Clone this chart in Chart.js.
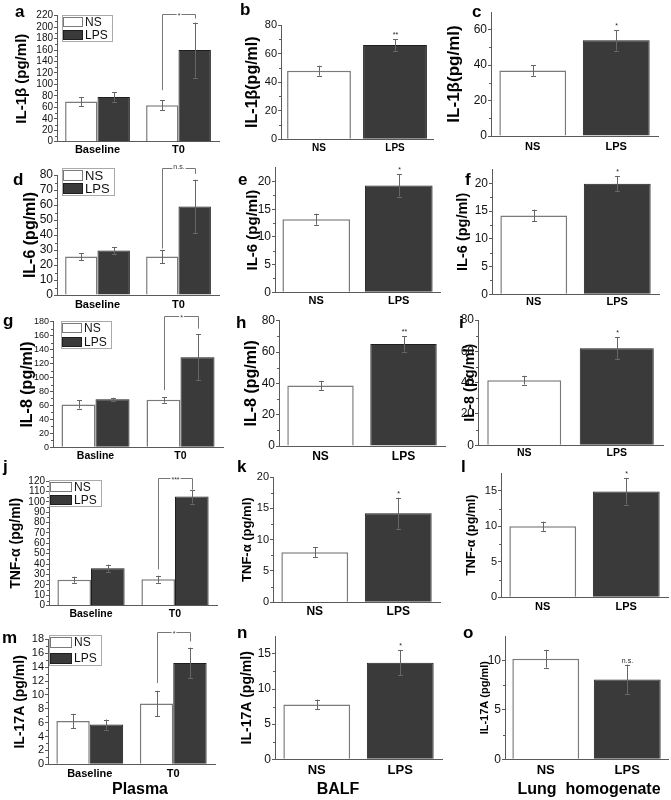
<!DOCTYPE html>
<html>
<head>
<meta charset="utf-8">
<script src="https://cdn.jsdelivr.net/npm/chart.js@4"></script>
<style>
  html, body { margin: 0; padding: 0; background: #fff; }
  body { position: relative; width: 671px; height: 800px; overflow: hidden; }
  canvas { position: absolute; }
</style>
</head>
<body>
<script>
// categories
const plasmaDays = ['Baseline', 'T0'];
const plasmaDaysIL8 = ['Basline', 'T0'];
const groups = ['NS', 'LPS'];

// IL-1β
const il1bPlasmaNS = [70, 63.5], il1bPlasmaNSErr = [8, 9];
const il1bPlasmaLPS = [78, 160], il1bPlasmaLPSErr = [8, 48];
const il1bPlasmaBracket = [90, 223, 215];
const il1bBalf = [48, 66], il1bBalfErr = [3.5, 4], il1bBalfSig = ['', '**'];
const il1bLung = [37, 54], il1bLungErr = [3, 5.8], il1bLungSig = ['', '*'];

// IL-6
const il6PlasmaNS = [25.6, 25.6], il6PlasmaNSErr = [2.3, 4.5];
const il6PlasmaLPS = [29.6, 59], il6PlasmaLPSErr = [2.3, 17.8];
const il6PlasmaBracket = [31, 84.4, 80.7];
const il6Balf = [13.2, 19.3], il6BalfErr = [1, 2], il6BalfSig = ['', '*'];
const il6Lung = [14.2, 19.9], il6LungErr = [1.05, 1.35], il6LungSig = ['', '*'];

// IL-8
const il8PlasmaNS = [61.5, 68], il8PlasmaNSErr = [6, 4];
const il8PlasmaLPS = [69, 129], il8PlasmaLPSErr = [2, 33];
const il8PlasmaBracket = [82, 188, 170];
const il8Balf = [38.7, 65.2], il8BalfErr = [2.9, 5], il8BalfSig = ['', '**'];
const il8Lung = [41.6, 62], il8LungErr = [2.8, 7], il8LungSig = ['', '*'];

// TNF-α
const tnfPlasmaNS = [25, 25.5], tnfPlasmaNSErr = [2.9, 3.3];
const tnfPlasmaLPS = [36, 105], tnfPlasmaLPSErr = [3.5, 6.7];
const tnfPlasmaBracket = [35, 123, 112];
const tnfBalf = [8, 14.2], tnfBalfErr = [0.75, 2.5], tnfBalfSig = ['', '*'];
const tnfLung = [10, 14.9], tnfLungErr = [0.65, 1.85], tnfLungSig = ['', '*'];

// IL-17A
const il17PlasmaNS = [6.25, 8.75], il17PlasmaNSErr = [1.03, 1.85];
const il17PlasmaLPS = [5.72, 14.6], il17PlasmaLPSErr = [0.73, 2.2];
const il17PlasmaBracket = [11.7, 19, 17.7];
const il17Balf = [7.8, 13.75], il17BalfErr = [0.7, 1.8], il17BalfSig = ['', '*'];
const il17Lung = [10.2, 8.1], il17LungErr = [0.9, 1.5], il17LungSig = ['', 'n.s.'];

const FONT = "'Liberation Sans', Arial, Helvetica, sans-serif";
const AXIS = '#5a5a5a';
const NS_FILL = '#ffffff', NS_EDGE = '#7a7a7a';
const LPS_FILL = '#3a3a3a', LPS_EDGE = '#1e1e1e';
const ERR = '#666666';

// canvas cells (x, width) and (y, height)
const COL = [[0, 228], [222, 226], [440, 231]];
const ROW = [[0, 162], [155, 157], [305, 159], [455, 173], [620, 180]];

const panels = [
  { letter: 'a', at: [15, 17], col: 0, row: 0, plot: [57, 15.7, 219, 141.7], titleX: 22, titleSize: 15, title: 'IL-1β (pg/ml)',
    tickSize: 10, xSize: 11, xGap: 8.3, max: 220, step: 20, labels: plasmaDays,
    ns: il1bPlasmaNS, nsErr: il1bPlasmaNSErr, lps: il1bPlasmaLPS, lpsErr: il1bPlasmaLPSErr,
    bracket: il1bPlasmaBracket, bracketText: '*', legend: [63, 17, 20, 10, 30, 12] },
  { letter: 'b', at: [240, 15], col: 1, row: 0, plot: [281, 25, 433, 139.3], titleX: 253, titleSize: 16, title: 'IL-1β(pg/ml)',
    tickSize: 11, xSize: 10, xGap: 9, max: 80, step: 20, cat: 0.84, labels: groups,
    values: il1bBalf, errors: il1bBalfErr, sig: il1bBalfSig },
  { letter: 'c', at: [472, 17], col: 2, row: 0, plot: [491, 12, 658, 136], titleX: 454, titleSize: 17, title: 'IL-1β(pg/ml)',
    tickSize: 12, xSize: 11, xGap: 10.7, max: 70, step: 20, labels: groups,
    values: il1bLung, errors: il1bLungErr, sig: il1bLungSig },

  { letter: 'd', at: [13, 185], col: 0, row: 1, plot: [57, 175, 219, 295], titleX: 31, titleSize: 16, title: 'IL-6 (pg/ml)',
    tickSize: 12, xSize: 11, xGap: 10, max: 80, step: 10, labels: plasmaDays,
    ns: il6PlasmaNS, nsErr: il6PlasmaNSErr, lps: il6PlasmaLPS, lpsErr: il6PlasmaLPSErr,
    bracket: il6PlasmaBracket, bracketText: 'n.s.', legend: [63, 170, 20, 11, 183, 13] },
  { letter: 'e', at: [238, 185], col: 1, row: 1, plot: [275, 167.8, 440, 292.3], titleX: 253, titleSize: 15, title: 'IL-6 (pg/ml)',
    tickSize: 12, xSize: 11, xGap: 8.4, max: 22.5, step: 5, cat: 0.82, labels: groups,
    values: il6Balf, errors: il6BalfErr, sig: il6BalfSig },
  { letter: 'f', at: [465, 185], col: 2, row: 1, plot: [492, 169.4, 659, 294.3], titleX: 463, titleSize: 14.5, title: 'IL-6 (pg/ml)',
    tickSize: 12, xSize: 11, xGap: 7.8, max: 22.5, step: 5, labels: groups,
    values: il6Lung, errors: il6LungErr, sig: il6LungSig },

  { letter: 'g', at: [3, 326], col: 0, row: 2, plot: [53, 321.7, 223, 447.3], titleX: 28, titleSize: 16, title: 'IL-8 (pg/ml)',
    tickSize: 9, xSize: 10.5, xGap: 8.7, max: 180, step: 20, labels: plasmaDaysIL8,
    ns: il8PlasmaNS, nsErr: il8PlasmaNSErr, lps: il8PlasmaLPS, lpsErr: il8PlasmaLPSErr,
    bracket: il8PlasmaBracket, bracketText: '*', legend: [62, 323, 20, 10, 337, 12] },
  { letter: 'h', at: [236, 328], col: 1, row: 2, plot: [279, 320.7, 445, 446], titleX: 252, titleSize: 16, title: 'IL-8 (pg/ml)',
    tickSize: 12, xSize: 12, xGap: 10.7, max: 80, step: 20, labels: groups,
    values: il8Balf, errors: il8BalfErr, sig: il8BalfSig },
  { letter: 'i', at: [459, 328], col: 2, row: 2, plot: [478, 320, 663, 445.3], titleX: 470, titleSize: 14.5, title: 'IL-8 (pg/ml)',
    tickSize: 12, xSize: 10.5, xGap: 8, max: 80, step: 20, labels: groups,
    values: il8Lung, errors: il8LungErr, sig: il8LungSig },

  { letter: 'j', at: [3, 472], col: 0, row: 3, plot: [49, 481, 217, 605.7], titleX: 16, titleSize: 14, title: 'TNF-α (pg/ml)',
    tickSize: 10, xSize: 10.5, xGap: 8.3, max: 120, step: 10, labels: plasmaDays,
    ns: tnfPlasmaNS, nsErr: tnfPlasmaNSErr, lps: tnfPlasmaLPS, lpsErr: tnfPlasmaLPSErr,
    bracket: tnfPlasmaBracket, bracketText: '***', legend: [50, 482, 22, 10, 495, 12] },
  { letter: 'k', at: [237, 472], col: 1, row: 3, plot: [273, 477, 440, 602.3], titleX: 247, titleSize: 13, title: 'TNF-α (pg/ml)',
    tickSize: 11, xSize: 12, xGap: 9.4, max: 20, step: 5, labels: groups,
    values: tnfBalf, errors: tnfBalfErr, sig: tnfBalfSig },
  { letter: 'l', at: [461, 472], col: 2, row: 3, plot: [501, 473, 668, 597.3], titleX: 472, titleSize: 12.5, title: 'TNF-α (pg/ml)',
    tickSize: 11, xSize: 11, xGap: 9.4, max: 17.5, step: 5, labels: groups,
    values: tnfLung, errors: tnfLungErr, sig: tnfLungSig },

  { letter: 'm', at: [2, 643], col: 0, row: 4, plot: [48, 639.4, 215, 764.3], titleX: 20, titleSize: 14, title: 'IL-17A (pg/ml)',
    tickSize: 11, xSize: 11, xGap: 9.7, max: 18, step: 2, labels: plasmaDays,
    ns: il17PlasmaNS, nsErr: il17PlasmaNSErr, lps: il17PlasmaLPS, lpsErr: il17PlasmaLPSErr,
    bracket: il17PlasmaBracket, bracketText: '*', legend: [50, 637, 22, 11, 653, 12],
    footer: ['Plasma', 140, 790] },
  { letter: 'n', at: [237, 638], col: 1, row: 4, plot: [275, 636.3, 442, 759.3], titleX: 247, titleSize: 14, title: 'IL-17A (pg/ml)',
    tickSize: 12, xSize: 13, xGap: 10.7, max: 17.5, step: 5, labels: groups,
    values: il17Balf, errors: il17BalfErr, sig: il17BalfSig, footer: ['BALF', 338, 790] },
  { letter: 'o', at: [463, 638], col: 2, row: 4, plot: [505, 636, 668, 759.3], titleX: 485, titleSize: 11, title: 'IL-17A (pg/ml)',
    tickSize: 12, xSize: 13, xGap: 10.7, max: 12.5, step: 5, cat: 0.82, labels: groups,
    values: il17Lung, errors: il17LungErr, sig: il17LungSig, footer: ['Lung  homogenate', 589, 790] }
];

// error bars, minor ticks, brackets, legends, panel letters
const decor = {
  id: 'decor',
  afterDraw(chart, args, o) {
    const p = o.panel, ctx = chart.ctx, ys = chart.scales.y;
    const ox = COL[p.col][0], oy = ROW[p.row][0];
    ctx.save();

    // minor ticks
    ctx.strokeStyle = AXIS; ctx.lineWidth = 1;
    const ax = chart.chartArea.left;
    for (let v = p.step / 2; v < p.max; v += p.step) {
      const py = Math.round(ys.getPixelForValue(v)) + 0.5;
      ctx.beginPath(); ctx.moveTo(ax - 2, py); ctx.lineTo(ax, py); ctx.stroke();
    }

    // error bars + significance marks
    chart.data.datasets.forEach((ds, di) => {
      chart.getDatasetMeta(di).data.forEach((bar, i) => {
        const top = ys.getPixelForValue(ds.data[i] + ds.errors[i]);
        const bot = ys.getPixelForValue(ds.data[i] - ds.errors[i]);
        const x = Math.round(bar.x) + 0.5;
        ctx.strokeStyle = ERR; ctx.lineWidth = 1;
        ctx.beginPath();
        ctx.moveTo(x, top); ctx.lineTo(x, bot);
        ctx.moveTo(x - 2.5, Math.round(top) + 0.5); ctx.lineTo(x + 2.5, Math.round(top) + 0.5);
        ctx.moveTo(x - 2.5, Math.round(bot) + 0.5); ctx.lineTo(x + 2.5, Math.round(bot) + 0.5);
        ctx.stroke();
        if (ds.marks && ds.marks[i]) {
          ctx.fillStyle = '#222';
          ctx.font = `7px ${FONT}`;
          ctx.textAlign = 'center'; ctx.textBaseline = 'alphabetic';
          ctx.fillText(ds.marks[i], x, top - 2);
        }
      });
    });

    // bracket between T0 bars
    if (p.bracket) {
      const xa = Math.round(chart.getDatasetMeta(0).data[1].x) + 0.5;
      const xb = Math.round(chart.getDatasetMeta(1).data[1].x) + 0.5;
      const y1 = ys.getPixelForValue(p.bracket[0]);
      const yt = Math.round(ys.getPixelForValue(p.bracket[1])) + 0.5;
      const y2 = ys.getPixelForValue(p.bracket[2]);
      ctx.strokeStyle = '#777'; ctx.lineWidth = 1;
      ctx.beginPath();
      ctx.moveTo(xa, y1); ctx.lineTo(xa, yt); ctx.lineTo(xb, yt); ctx.lineTo(xb, y2);
      ctx.stroke();
      ctx.font = `7px ${FONT}`;
      const w = ctx.measureText(p.bracketText).width;
      const mx = (xa + xb) / 2;
      ctx.fillStyle = '#fff';
      ctx.fillRect(mx - w / 2 - 1, yt - 2, w + 2, 4);
      ctx.fillStyle = '#333';
      ctx.textAlign = 'center'; ctx.textBaseline = 'middle';
      ctx.fillText(p.bracketText, mx, yt + (p.bracketText === 'n.s.' ? -1 : 2));
    }

    // legend
    if (p.legend) {
      const [lx, ly1, w, h, ly2, fs] = p.legend;
      ctx.strokeStyle = '#aaa'; ctx.lineWidth = 1;
      ctx.strokeRect(lx - ox - 0.5, ly1 - oy - 1.5, w + fs * 2 + 6, ly2 - ly1 + h + 3);
      [ly1, ly2].forEach((ly, k) => {
        const ds = chart.data.datasets[k];
        ctx.fillStyle = ds.backgroundColor;
        ctx.fillRect(lx - ox, ly - oy, w, h);
        ctx.strokeStyle = k === 0 ? NS_EDGE : LPS_EDGE;
        ctx.strokeRect(lx - ox + 0.5, ly - oy + 0.5, w - 1, h - 1);
        ctx.fillStyle = '#111';
        ctx.font = `${fs}px ${FONT}`;
        ctx.textAlign = 'left'; ctx.textBaseline = 'middle';
        ctx.fillText(ds.label, lx - ox + w + 2, ly - oy + h / 2 + 0.5);
      });
    }

    // panel letter
    ctx.fillStyle = '#000';
    ctx.font = `bold 17px ${FONT}`;
    ctx.textAlign = 'left'; ctx.textBaseline = 'alphabetic';
    ctx.fillText(p.letter, p.at[0] - ox, p.at[1] - oy);

    // sample type under the bottom row
    if (p.footer) {
      ctx.font = `bold 16px ${FONT}`;
      ctx.textAlign = 'center'; ctx.textBaseline = 'middle';
      ctx.fillText(p.footer[0], p.footer[1] - ox, p.footer[2] - oy);
    }
    ctx.restore();
  }
};

function buildDatasets(p) {
  const cat = p.cat || 0.8;
  if (p.ns) {
    return [
      { label: groups[0], data: p.ns, errors: p.nsErr, backgroundColor: NS_FILL, borderColor: NS_EDGE,
        borderWidth: 1.5, categoryPercentage: cat, barPercentage: 1 },
      { label: groups[1], data: p.lps, errors: p.lpsErr, backgroundColor: LPS_FILL, borderColor: LPS_EDGE,
        borderWidth: 1, categoryPercentage: cat, barPercentage: 1 }
    ];
  }
  return [{
    label: p.title, data: p.values, errors: p.errors, marks: p.sig,
    backgroundColor: [NS_FILL, LPS_FILL], borderColor: [NS_EDGE, LPS_EDGE], borderWidth: [1.5, 1],
    categoryPercentage: cat, barPercentage: 1
  }];
}

panels.forEach(p => {
  const [cx, cw] = COL[p.col];
  const [cy, ch] = ROW[p.row];
  const canvas = document.createElement('canvas');
  canvas.width = cw; canvas.height = ch;
  canvas.style.left = cx + 'px'; canvas.style.top = cy + 'px';
  canvas.style.width = cw + 'px'; canvas.style.height = ch + 'px';
  document.body.appendChild(canvas);

  const padL = p.titleX - p.titleSize * 0.6 - cx;
  const [pl, pt, pr, pb] = p.plot;

  new Chart(canvas, {
    type: 'bar',
    data: { labels: p.labels, datasets: buildDatasets(p) },
    options: {
      responsive: false,
      animation: false,
      devicePixelRatio: 1,
      layout: { padding: { left: padL, top: pt - cy, right: cx + cw - pr, bottom: 0 } },
      plugins: { legend: { display: false }, tooltip: { enabled: false }, decor: { panel: p } },
      scales: {
        x: {
          grid: { display: false, drawTicks: false },
          border: { display: true, color: AXIS, width: 1 },
          ticks: {
            color: '#000', autoSkip: false, maxRotation: 0,
            padding: p.xGap - p.xSize * 0.6,
            font: { family: FONT, size: p.xSize, weight: 'bold' }
          },
          afterFit: s => { s.height = cy + ch - pb; }
        },
        y: {
          min: 0, max: p.max, bounds: 'data',
          grid: { display: true, drawOnChartArea: false, drawTicks: true, tickLength: 3, color: AXIS },
          border: { display: true, color: AXIS, width: 1 },
          ticks: {
            stepSize: p.step, includeBounds: false, autoSkip: false, padding: 1, color: '#111',
            font: { family: FONT, size: p.tickSize }
          },
          // keep only whole steps (no extra label at an odd axis top)
          afterBuildTicks: s => {
            s.ticks = s.ticks.filter(t => Math.abs(t.value / p.step - Math.round(t.value / p.step)) < 1e-6);
          },
          title: {
            display: true, text: p.title, color: '#000', padding: 0,
            font: { family: FONT, size: p.titleSize, weight: 'bold' }
          },
          afterFit: s => { s.width = pl - cx - padL; }
        }
      }
    },
    plugins: [decor]
  });
});
</script>
</body>
</html>
